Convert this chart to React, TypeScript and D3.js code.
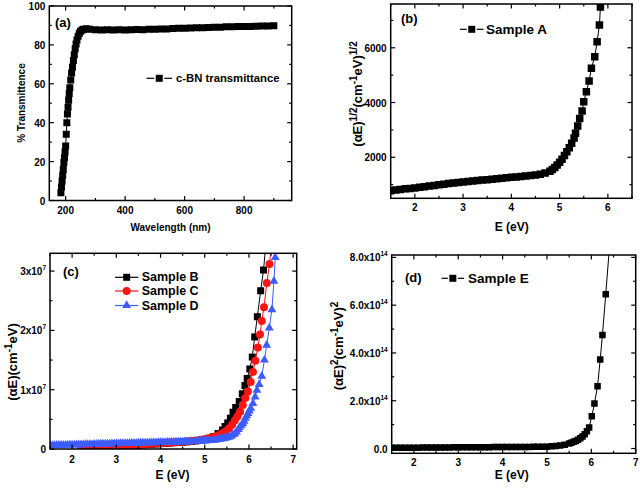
import React from 'react';
import * as d3 from 'd3';

const FONT = '"Liberation Sans", Arial, Helvetica, sans-serif';

// ---------------- Panel (a): c-BN transmittance ----------------
const aWavelength = [184, 186, 188, 190, 192, 194, 196, 198, 200, 202, 204, 206, 208, 210, 212, 214, 217, 220, 223, 226, 229, 232, 235, 238, 242, 246, 250, 255, 260, 270, 280, 300, 320, 340, 360, 380, 400, 420, 440, 460, 480, 500, 520, 540, 560, 580, 600, 620, 640, 660, 680, 700, 720, 740, 760, 780, 800, 820, 840, 860, 880, 900];
const aTransmittance = [4, 7, 10, 13, 16, 19.5, 22, 25, 28, 34, 40, 44.5, 48, 51.5, 55, 58, 62, 65.5, 68.5, 72, 75, 78, 80.5, 82.5, 84.5, 86, 87, 87.7, 88, 88.3, 88.1, 87.8, 87.7, 87.8, 87.7, 87.8, 87.7, 87.8, 87.9, 87.8, 88.0, 88.1, 88.2, 88.2, 88.4, 88.5, 88.6, 88.7, 88.8, 88.8, 89.0, 89.1, 89.1, 89.3, 89.3, 89.4, 89.5, 89.5, 89.6, 89.7, 89.7, 89.8];
const aXTicks = [200, 400, 600, 800];
const aXMinor = [300, 500, 700, 900];
const aYTicks = [0, 20, 40, 60, 80, 100];
const aYMinor = [10, 30, 50, 70, 90];
const aXTickText = ['200', '400', '600', '800'];
const aYTickText = ['0', '20', '40', '60', '80', '100'];

// ---------------- Panel (b): Sample A ----------------
const bEnergy = [1.5, 1.6, 1.7, 1.8, 1.9, 2.0, 2.1, 2.2, 2.3, 2.4, 2.5, 2.6, 2.7, 2.8, 2.9, 3.0, 3.1, 3.2, 3.3, 3.4, 3.5, 3.6, 3.7, 3.8, 3.9, 4.0, 4.1, 4.2, 4.3, 4.4, 4.5, 4.6, 4.7, 4.8, 4.85, 4.9, 4.95, 5.0, 5.05, 5.1, 5.15, 5.2, 5.25, 5.3, 5.33, 5.375, 5.416, 5.466, 5.5, 5.555, 5.611, 5.659, 5.728, 5.777, 5.825, 5.846];
const bValue = [780, 800, 822, 845, 862, 880, 902, 925, 948, 970, 992, 1015, 1038, 1060, 1080, 1100, 1118, 1135, 1150, 1165, 1182, 1200, 1218, 1235, 1250, 1265, 1282, 1300, 1318, 1335, 1355, 1380, 1420, 1490, 1550, 1630, 1720, 1820, 1930, 2060, 2200, 2350, 2510, 2700, 2880, 3140, 3420, 3690, 4030, 4395, 4785, 5250, 5670, 6220, 6830, 7490];
const bXTicks = [2, 3, 4, 5, 6];
const bXMinor = [1.5, 2.5, 3.5, 4.5, 5.5, 6.5];
const bYTicks = [2000, 4000, 6000];
const bYMinor = [1000, 3000, 5000, 7000];
const bXTickText = ['2', '3', '4', '5', '6'];
const bYTickText = ['2000', '4000', '6000'];

// ---------------- Panel (c): Samples B, C, D (values in 10^6) ----------------
const cEnergyB = [2.4, 2.5, 2.6, 2.7, 2.8, 2.9, 3.0, 3.1, 3.2, 3.3, 3.4, 3.5, 3.6, 3.7, 3.8, 3.9, 4.0, 4.1, 4.2, 4.3, 4.4, 4.5, 4.6, 4.7, 4.8, 4.9, 5.0, 5.1, 5.2, 5.3, 5.4, 5.46, 5.52, 5.58, 5.64, 5.70, 5.78, 5.85, 5.91, 5.96, 6.02, 6.075, 6.13, 6.19, 6.265, 6.33, 6.40];
const cValueB = [0.05, 0.1, 0.15, 0.2, 0.26, 0.32, 0.38, 0.44, 0.5, 0.55, 0.6, 0.65, 0.7, 0.75, 0.8, 0.85, 0.9, 0.95, 1.0, 1.05, 1.1, 1.15, 1.2, 1.28, 1.36, 1.45, 1.6, 1.8, 2.1, 2.6, 3.2, 3.8, 4.4, 5.2, 6.2, 7.0, 8.0, 9.3, 10.7, 11.9, 13.5, 15.5, 18.9, 22.3, 26.7, 30.2, 36.0];
const cEnergyC = [2.2, 2.3, 2.4, 2.5, 2.6, 2.7, 2.8, 2.9, 3.0, 3.1, 3.2, 3.3, 3.4, 3.5, 3.6, 3.7, 3.8, 3.9, 4.0, 4.1, 4.2, 4.3, 4.4, 4.5, 4.6, 4.7, 4.8, 4.9, 5.0, 5.1, 5.2, 5.3, 5.4, 5.48, 5.55, 5.62, 5.68, 5.74, 5.80, 5.86, 5.92, 5.975, 6.04, 6.09, 6.145, 6.20, 6.25, 6.29, 6.34, 6.405, 6.465, 6.53];
const cValueC = [0.05, 0.1, 0.15, 0.2, 0.25, 0.3, 0.36, 0.42, 0.48, 0.53, 0.58, 0.63, 0.68, 0.73, 0.78, 0.83, 0.88, 0.93, 0.98, 1.03, 1.08, 1.13, 1.18, 1.24, 1.3, 1.37, 1.45, 1.55, 1.68, 1.85, 2.05, 2.3, 2.65, 3.05, 3.5, 4.1, 4.8, 5.5, 6.3, 7.4, 8.6, 9.7, 11.3, 13.0, 14.9, 17.1, 19.3, 21.6, 23.9, 28.0, 31.2, 36.0];
const cEnergyD = [1.5, 1.55, 1.6, 1.65, 1.7, 1.75, 1.8, 1.85, 1.9, 1.95, 2.0, 2.05, 2.1, 2.15, 2.2, 2.25, 2.3, 2.35, 2.4, 2.45, 2.5, 2.55, 2.6, 2.65, 2.7, 2.75, 2.8, 2.85, 2.9, 2.95, 3.0, 3.05, 3.1, 3.15, 3.2, 3.25, 3.3, 3.35, 3.4, 3.45, 3.5, 3.55, 3.6, 3.65, 3.7, 3.75, 3.8, 3.85, 3.9, 3.95, 4.0, 4.05, 4.1, 4.15, 4.2, 4.25, 4.3, 4.35, 4.4, 4.45, 4.5, 4.55, 4.6, 4.65, 4.7, 4.75, 4.8, 4.85, 4.9, 4.95, 5.0, 5.05, 5.1, 5.15, 5.2, 5.25, 5.3, 5.35, 5.4, 5.45, 5.5, 5.55, 5.6, 5.64, 5.68, 5.72, 5.76, 5.79, 5.83, 5.86, 5.89, 5.92, 5.95, 5.98, 6.01, 6.04, 6.09, 6.14, 6.18, 6.23, 6.29, 6.35, 6.40, 6.46, 6.52, 6.565, 6.595];
const cValueD = [0.60, 0.61, 0.62, 0.63, 0.64, 0.65, 0.66, 0.67, 0.68, 0.69, 0.70, 0.71, 0.72, 0.73, 0.74, 0.75, 0.76, 0.77, 0.78, 0.79, 0.80, 0.81, 0.82, 0.84, 0.85, 0.86, 0.87, 0.88, 0.89, 0.90, 0.91, 0.92, 0.93, 0.94, 0.95, 0.96, 0.97, 0.98, 0.99, 1.00, 1.01, 1.02, 1.03, 1.04, 1.05, 1.06, 1.07, 1.08, 1.09, 1.10, 1.11, 1.12, 1.13, 1.14, 1.15, 1.16, 1.17, 1.18, 1.19, 1.20, 1.21, 1.22, 1.24, 1.25, 1.27, 1.28, 1.30, 1.32, 1.34, 1.36, 1.38, 1.40, 1.43, 1.46, 1.50, 1.55, 1.60, 1.66, 1.72, 1.80, 1.90, 2.0, 2.15, 2.4, 2.6, 2.9, 3.3, 3.7, 4.0, 4.3, 4.7, 5.2, 5.6, 6.0, 6.4, 6.9, 7.7, 8.8, 9.9, 10.9, 12.3, 15.0, 17.5, 20.4, 23.5, 28.3, 32.3];
const cXTicks = [2, 3, 4, 5, 6, 7];
const cXMinor = [1.5, 2.5, 3.5, 4.5, 5.5, 6.5];
const cYTicks = [0, 10, 20, 30];
const cYMinor = [5, 15, 25];
const cXTickText = ['2', '3', '4', '5', '6', '7'];
const cYTickText = ['0', '1x10', '2x10', '3x10'];
const cYTickSup = ['', '7', '7', '7'];

// ---------------- Panel (d): Sample E (values in 10^14) ----------------
const dEnergy = [1.5, 1.6, 1.7, 1.8, 1.9, 2.0, 2.1, 2.2, 2.3, 2.4, 2.5, 2.6, 2.7, 2.8, 2.9, 3.0, 3.1, 3.2, 3.3, 3.4, 3.5, 3.6, 3.7, 3.8, 3.9, 4.0, 4.1, 4.2, 4.3, 4.4, 4.5, 4.6, 4.7, 4.8, 4.9, 5.0, 5.1, 5.2, 5.3, 5.4, 5.5, 5.55, 5.6, 5.65, 5.7, 5.75, 5.8, 5.85, 5.9, 5.95, 6.01, 6.07, 6.14, 6.20, 6.25, 6.325, 6.42];
const dValue = [0.03, 0.03, 0.03, 0.03, 0.035, 0.035, 0.035, 0.04, 0.04, 0.04, 0.04, 0.045, 0.045, 0.045, 0.05, 0.05, 0.05, 0.05, 0.05, 0.055, 0.055, 0.055, 0.055, 0.06, 0.06, 0.06, 0.06, 0.06, 0.065, 0.065, 0.065, 0.065, 0.07, 0.07, 0.07, 0.075, 0.09, 0.11, 0.13, 0.16, 0.21, 0.24, 0.28, 0.32, 0.37, 0.43, 0.50, 0.60, 0.72, 0.88, 1.35, 1.88, 2.61, 3.73, 4.75, 6.46, 8.7];
const dXTicks = [2, 3, 4, 5, 6, 7];
const dXMinor = [2.5, 3.5, 4.5, 5.5, 6.5];
const dYTicks = [0, 2, 4, 6, 8];
const dYMinor = [1, 3, 5, 7];
const dXTickText = ['2', '3', '4', '5', '6', '7'];
const dYTickText = ['0.0', '2.0x10', '4.0x10', '6.0x10', '8.0x10'];
const dYTickSup = ['', '14', '14', '14', '14'];

// ---------------- Colours ----------------
const BLACK = '#000000';
const RED = '#ff1414';
const BLUE = '#3d5cff';

type Shape = 'square' | 'circle' | 'triangle';
interface SeriesDef { x: number[]; y: number[]; color: string; shape: Shape; size: number; }
interface Box { l: number; r: number; t: number; b: number; }

function symbolD(shape: Shape, size: number): string {
  if (shape === 'square') return d3.symbol(d3.symbolSquare, size * size)() as string;
  if (shape === 'circle') return d3.symbol(d3.symbolCircle, (Math.PI * size * size) / 4)() as string;
  return d3.symbol(d3.symbolTriangle, (Math.sqrt(3) / 4) * size * size * 1.1)() as string;
}

interface PanelProps {
  id: string; box: Box; xDomain: [number, number]; yDomain: [number, number];
  xTicks: number[]; xMinor: number[]; yTicks: number[]; yMinor: number[];
  xTickText: string[]; yTickText: string[]; yTickSup?: string[];
  series: SeriesDef[]; xLabelDy: number;
}

function Panel(p: PanelProps) {
  const { box } = p;
  const x = d3.scaleLinear().domain(p.xDomain).range([box.l, box.r]);
  const y = d3.scaleLinear().domain(p.yDomain).range([box.b, box.t]);
  const MAJ = 4.5, MIN = 2.5;
  const tickStyle = { stroke: '#000', strokeWidth: 1.2 };
  return (
    <g>
      <clipPath id={p.id + '-clip'}>
        <rect x={box.l} y={box.t} width={box.r - box.l} height={box.b - box.t} />
      </clipPath>
      <g clipPath={`url(#${p.id}-clip)`}>
        {p.series.map((s, si) => {
          const pts: [number, number][] = s.x.map((v, j) => [v, s.y[j]]);
          const line = d3.line<[number, number]>().x(d => x(d[0])).y(d => y(d[1]));
          const sym = symbolD(s.shape, s.size);
          return (
            <g key={si}>
              <path d={line(pts) as string} fill="none" stroke={s.color} strokeWidth={1} />
              {pts.map((d, j) => (
                <path key={j} d={sym} transform={`translate(${x(d[0])},${y(d[1])})`} fill={s.color} />
              ))}
            </g>
          );
        })}
      </g>
      {p.xTicks.map(t => (
        <g key={'xt' + t}>
          <line x1={x(t)} x2={x(t)} y1={box.b} y2={box.b - MAJ} {...tickStyle} />
          <line x1={x(t)} x2={x(t)} y1={box.t} y2={box.t + MAJ} {...tickStyle} />
        </g>
      ))}
      {p.xMinor.map(t => (
        <g key={'xm' + t}>
          <line x1={x(t)} x2={x(t)} y1={box.b} y2={box.b - MIN} {...tickStyle} />
          <line x1={x(t)} x2={x(t)} y1={box.t} y2={box.t + MIN} {...tickStyle} />
        </g>
      ))}
      {p.yTicks.map(t => (
        <g key={'yt' + t}>
          <line y1={y(t)} y2={y(t)} x1={box.l} x2={box.l + MAJ} {...tickStyle} />
          <line y1={y(t)} y2={y(t)} x1={box.r} x2={box.r - MAJ} {...tickStyle} />
        </g>
      ))}
      {p.yMinor.map(t => (
        <g key={'ym' + t}>
          <line y1={y(t)} y2={y(t)} x1={box.l} x2={box.l + MIN} {...tickStyle} />
          <line y1={y(t)} y2={y(t)} x1={box.r} x2={box.r - MIN} {...tickStyle} />
        </g>
      ))}
      <rect x={box.l} y={box.t} width={box.r - box.l} height={box.b - box.t} fill="none" stroke="#000" strokeWidth={1.5} />
      {p.xTicks.map((t, i) => (
        <text key={'xl' + t} x={x(t)} y={box.b + p.xLabelDy} textAnchor="middle" dominantBaseline="central" fontSize={10}>
          {p.xTickText[i]}
        </text>
      ))}
      {p.yTicks.map((t, i) => (
        <text key={'yl' + t} x={box.l - 4} y={y(t)} textAnchor="end" dominantBaseline="central" fontSize={10}>
          <tspan>{p.yTickText[i]}</tspan>
          {p.yTickSup && p.yTickSup[i] ? <tspan dy={-4} fontSize={6.5}>{p.yTickSup[i]}</tspan> : null}
        </text>
      ))}
    </g>
  );
}

function LegendItem(props: { x1: number; x2: number; y: number; color: string; shape: Shape; size: number; tx: number; text: string; fs: number; gap?: boolean }) {
  const { x1, x2, y, color, shape, size, tx, text, fs, gap } = props;
  const cx = (x1 + x2) / 2;
  return (
    <g>
      {gap ? (
        <g>
          <line x1={x1} x2={cx - size / 2 - 1.5} y1={y} y2={y} stroke={color} strokeWidth={1.2} />
          <line x1={cx + size / 2 + 1.5} x2={x2} y1={y} y2={y} stroke={color} strokeWidth={1.2} />
        </g>
      ) : (
        <line x1={x1} x2={x2} y1={y} y2={y} stroke={color} strokeWidth={1.2} />
      )}
      <path d={symbolD(shape, size)} transform={`translate(${cx},${y})`} fill={color} />
      <text x={tx} y={y} dominantBaseline="central" fontSize={fs}>{text}</text>
    </g>
  );
}

export default function App() {
  const boxA: Box = { l: 49.3, r: 291.7, t: 6, b: 200.5 };
  const boxB: Box = { l: 390.7, r: 632, t: 4, b: 198.3 };
  const boxC: Box = { l: 50, r: 296.7, t: 253.3, b: 449 };
  const boxD: Box = { l: 391.7, r: 635.7, t: 255, b: 453.3 };
  return (
    <svg width={640} height={489} style={{ position: 'absolute', left: 0, top: 0 }} fontFamily={FONT} fontWeight="bold">
      <rect width={640} height={489} fill="#ffffff" />

      {/* (a) */}
      <Panel id="a" box={boxA} xDomain={[145, 960]} yDomain={[0, 100]}
        xTicks={aXTicks} xMinor={aXMinor} yTicks={aYTicks} yMinor={aYMinor}
        xTickText={aXTickText} yTickText={aYTickText} xLabelDy={9.5}
        series={[{ x: aWavelength, y: aTransmittance, color: BLACK, shape: 'square', size: 7 }]} />
      <text x={55} y={22.5} dominantBaseline="central" fontSize={13}>(a)</text>
      <LegendItem x1={146.5} x2={172} y={78.3} color={BLACK} shape="square" size={7} tx={176} text="c-BN transmittance" fs={11.3} gap />
      <text x={170.5} y={227.5} textAnchor="middle" dominantBaseline="central" fontSize={10}>Wavelength (nm)</text>
      <text transform="translate(24.5,103) rotate(-90)" textAnchor="middle" fontSize={10}>% Transmittence</text>

      {/* (b) */}
      <Panel id="b" box={boxB} xDomain={[1.5, 6.5]} yDomain={[500, 7600]}
        xTicks={bXTicks} xMinor={bXMinor} yTicks={bYTicks} yMinor={bYMinor}
        xTickText={bXTickText} yTickText={bYTickText} xLabelDy={9.3}
        series={[{ x: bEnergy, y: bValue, color: BLACK, shape: 'square', size: 7.5 }]} />
      <text x={401} y={18.5} dominantBaseline="central" fontSize={13}>(b)</text>
      <LegendItem x1={460} x2={483.5} y={29.3} color={BLACK} shape="square" size={7} tx={486} text="Sample A" fs={13.5} gap />
      <text x={511.7} y={227} textAnchor="middle" dominantBaseline="central" fontSize={12}>E (eV)</text>
      <text transform="translate(361.5,94) rotate(-90)" textAnchor="middle" fontSize={13}>
        <tspan>(αE)</tspan>
        <tspan dy={-5} fontSize={10}>1/2</tspan>
        <tspan dy={5}>(cm</tspan>
        <tspan dy={-5} fontSize={10}>-1</tspan>
        <tspan dy={5}>eV)</tspan>
        <tspan dy={-5} fontSize={10}>1/2</tspan>
      </text>

      {/* (c) */}
      <Panel id="c" box={boxC} xDomain={[1.5, 7.08]} yDomain={[0, 33]}
        xTicks={cXTicks} xMinor={cXMinor} yTicks={cYTicks} yMinor={cYMinor}
        xTickText={cXTickText} yTickText={cYTickText} yTickSup={cYTickSup} xLabelDy={10}
        series={[
          { x: cEnergyB, y: cValueB, color: BLACK, shape: 'square', size: 7 },
          { x: cEnergyC, y: cValueC, color: RED, shape: 'circle', size: 8 },
          { x: cEnergyD, y: cValueD, color: BLUE, shape: 'triangle', size: 8.5 },
        ]} />
      <text x={63} y={271} dominantBaseline="central" fontSize={13}>(c)</text>
      <LegendItem x1={115} x2={138.3} y={277.3} color={BLACK} shape="square" size={7} tx={141.7} text="Sample B" fs={12.5} />
      <LegendItem x1={115} x2={138.3} y={291} color={RED} shape="circle" size={8} tx={141.7} text="Sample C" fs={12.5} />
      <LegendItem x1={115} x2={138.3} y={305.5} color={BLUE} shape="triangle" size={8.5} tx={141.7} text="Sample D" fs={12.5} />
      <text x={172.5} y={475} textAnchor="middle" dominantBaseline="central" fontSize={12}>E (eV)</text>
      <text transform="translate(17,362) rotate(-90)" textAnchor="middle" fontSize={13}>
        <tspan>(αE)(cm</tspan>
        <tspan dy={-5} fontSize={10}>-1</tspan>
        <tspan dy={5}>eV)</tspan>
      </text>

      {/* (d) */}
      <Panel id="d" box={boxD} xDomain={[1.5, 7]} yDomain={[-0.2, 8.1]}
        xTicks={dXTicks} xMinor={dXMinor} yTicks={dYTicks} yMinor={dYMinor}
        xTickText={dXTickText} yTickText={dYTickText} yTickSup={dYTickSup} xLabelDy={8.7}
        series={[{ x: dEnergy, y: dValue, color: BLACK, shape: 'square', size: 6.5 }]} />
      <text x={405} y={277} dominantBaseline="central" fontSize={13}>(d)</text>
      <LegendItem x1={441.7} x2={464} y={278.3} color={BLACK} shape="square" size={7} tx={468} text="Sample E" fs={13.5} gap />
      <text x={511.7} y={475} textAnchor="middle" dominantBaseline="central" fontSize={12}>E (eV)</text>
      <text transform="translate(343,346) rotate(-90)" textAnchor="middle" fontSize={13}>
        <tspan>(αE)</tspan>
        <tspan dy={-5} fontSize={10}>2</tspan>
        <tspan dy={5}>(cm</tspan>
        <tspan dy={-5} fontSize={10}>-1</tspan>
        <tspan dy={5}>eV)</tspan>
        <tspan dy={-5} fontSize={10}>2</tspan>
      </text>
    </svg>
  );
}
